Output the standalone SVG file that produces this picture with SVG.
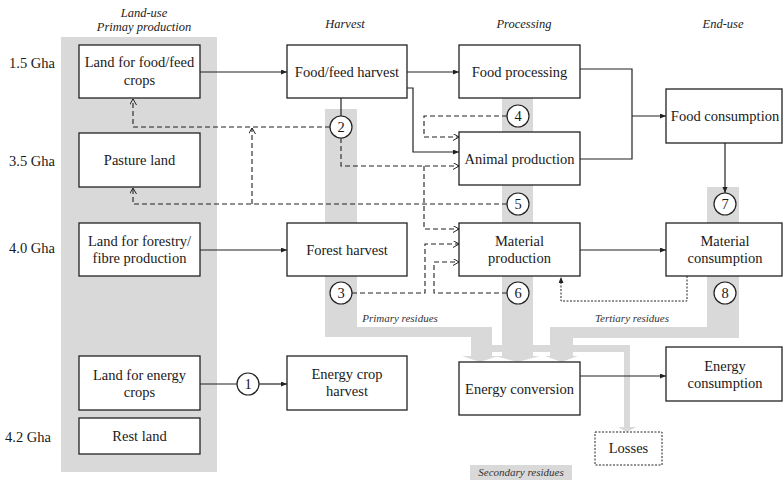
<svg xmlns="http://www.w3.org/2000/svg" width="783" height="481" viewBox="0 0 783 481">
<style>
.box{fill:#fff;stroke:#222;stroke-width:1.3}
text{font-family:'Liberation Serif','DejaVu Serif','Times New Roman',serif}
.t{font-size:14.5px;fill:#1a1a1a;text-anchor:middle}
.g{font-size:14.5px;fill:#1a1a1a}
.h{font-size:12.5px;font-style:italic;fill:#222;text-anchor:middle}
.r{font-size:11px;font-style:italic;fill:#333;text-anchor:middle}
.band{fill:#d9d9d9}
.sol{fill:none;stroke:#222;stroke-width:1.2;marker-end:url(#af)}
.sl{fill:none;stroke:#222;stroke-width:1.2}
.dsh{fill:none;stroke:#222;stroke-width:1.1;stroke-dasharray:5,3;marker-end:url(#ao)}
.dot{fill:none;stroke:#222;stroke-width:1;stroke-dasharray:2,1.5;marker-end:url(#af)}
.c{fill:#fff;stroke:#222;stroke-width:1.2}
</style>
<defs>
<marker id="af" markerUnits="userSpaceOnUse" markerWidth="7" markerHeight="6" refX="6" refY="2.5" orient="auto"><path d="M0,0 L6,2.5 L0,5 z" fill="#222"/></marker>
<marker id="ao" markerUnits="userSpaceOnUse" markerWidth="8" markerHeight="9" refX="6.5" refY="3.5" orient="auto"><path d="M0.5,0 L6.5,3.5 L0.5,7" fill="none" stroke="#222" stroke-width="1"/></marker>
</defs>
<g id="bands">
<rect class="band" x="61" y="37" width="156" height="435"/>
<rect class="band" x="325" y="109" width="32" height="228"/>
<rect class="band" x="325" y="327" width="167" height="10"/>
<rect class="band" x="471" y="327" width="21" height="29"/>
<polygon class="band" points="462,356 498,356 480,362"/>
<rect class="band" x="502" y="98" width="31" height="258"/>
<polygon class="band" points="495,356 540,356 517.5,362"/>
<rect class="band" x="707" y="187" width="32" height="151"/>
<rect class="band" x="550" y="327" width="189" height="11"/>
<rect class="band" x="550" y="327" width="23" height="29"/>
<polygon class="band" points="545,356 578,356 561.5,362"/>
<rect class="band" x="492" y="345" width="138" height="7"/>
<rect class="band" x="624" y="345" width="6" height="82"/>
<polygon class="band" points="618,427 636,427 627,432"/>
<rect class="band" x="470" y="465" width="102" height="15"/>
</g>
<g id="labels">
<text class="h" x="144" y="17">Land-use</text>
<text class="h" x="144" y="31">Primay production</text>
<text class="h" x="345" y="28">Harvest</text>
<text class="h" x="524" y="28">Processing</text>
<text class="h" x="723" y="28">End-use</text>
<text class="g" x="9" y="68">1.5 Gha</text>
<text class="g" x="9" y="166">3.5 Gha</text>
<text class="g" x="9" y="253">4.0 Gha</text>
<text class="g" x="5" y="442">4.2 Gha</text>
<text class="r" x="400" y="322">Primary residues</text>
<text class="r" x="632" y="322">Tertiary residues</text>
<text class="r" x="521" y="476">Secondary residues</text>
</g>
<g id="connectors">
<path class="sol" d="M200,72 H287"/>
<path class="sol" d="M407,72 H459"/>
<path class="sol" d="M407,88 H413 V152 H459"/>
<path class="sl" d="M580,69 H632 V159 H580"/>
<path class="sol" d="M632,116 H666"/>
<path class="sol" d="M725,143 V193"/>
<path class="sl" d="M341,98 V116"/>
<path class="sol" d="M200,250 H287"/>
<path class="sol" d="M580,250 H666"/>
<path class="sol" d="M580,376 H666"/>
<path class="sl" d="M200,384 H237"/>
<path class="sol" d="M259,384 H287"/>
<path class="dsh" d="M330,127 H133 V99"/>
<path class="dsh" d="M341,138 V166 H459"/>
<path class="dsh" d="M424,166 V229 H459"/>
<path class="dsh" d="M507,116 H424 V137 H459"/>
<path class="dsh" d="M507,204 H133 V188"/>
<path class="dsh" d="M252,204 V128"/>
<path class="dsh" d="M352,293 H425 V244 H459"/>
<path class="dsh" d="M507,293 H434 V262 H459"/>
<path class="dot" d="M687,276 V301 H561 V277"/>
</g>
<g id="land-food"><rect class="box" x="79" y="45" width="121" height="53"/><text class="t" x="139.5" y="67">Land for food/feed</text><text class="t" x="139.5" y="85">crops</text></g>
<g id="pasture"><rect class="box" x="79" y="133" width="121" height="54"/><text class="t" x="139.5" y="165">Pasture land</text></g>
<g id="land-forestry"><rect class="box" x="79" y="223" width="121" height="53"/><text class="t" x="139.5" y="246">Land for forestry/</text><text class="t" x="139.5" y="263">fibre production</text></g>
<g id="land-energy"><rect class="box" x="79" y="356" width="121" height="54"/><text class="t" x="139.5" y="379.5">Land for energy</text><text class="t" x="139.5" y="396.5">crops</text></g>
<g id="rest-land"><rect class="box" x="79" y="418" width="121" height="36"/><text class="t" x="139.5" y="441">Rest land</text></g>
<g id="food-harvest"><rect class="box" x="287" y="45" width="120" height="53"/><text class="t" x="347" y="76.5">Food/feed harvest</text></g>
<g id="forest-harvest"><rect class="box" x="287" y="223" width="120" height="53"/><text class="t" x="347" y="254.5">Forest harvest</text></g>
<g id="energy-harvest"><rect class="box" x="287" y="356" width="120" height="54"/><text class="t" x="347" y="379">Energy crop</text><text class="t" x="347" y="396">harvest</text></g>
<g id="food-processing"><rect class="box" x="459" y="45" width="121" height="53"/><text class="t" x="519.5" y="76.5">Food processing</text></g>
<g id="animal-production"><rect class="box" x="459" y="132" width="121" height="53"/><text class="t" x="519.5" y="163.5">Animal production</text></g>
<g id="material-production"><rect class="box" x="459" y="223" width="121" height="53"/><text class="t" x="519.5" y="246">Material</text><text class="t" x="519.5" y="263">production</text></g>
<g id="energy-conversion"><rect class="box" x="459" y="362" width="121" height="53"/><text class="t" x="519.5" y="393.5">Energy conversion</text></g>
<g id="food-consumption"><rect class="box" x="666" y="89" width="116" height="54"/><text class="t" x="725" y="121">Food consumption</text></g>
<g id="material-consumption"><rect class="box" x="666" y="223" width="116" height="53"/><text class="t" x="725" y="246">Material</text><text class="t" x="725" y="263">consumption</text></g>
<g id="energy-consumption"><rect class="box" x="666" y="347" width="116" height="54"/><text class="t" x="725" y="370.5">Energy</text><text class="t" x="725" y="387.5">consumption</text></g>
<g id="losses"><rect x="595" y="432" width="67" height="33" fill="#fff" stroke="#222" stroke-width="1" stroke-dasharray="2,1.5"/><text class="t" x="628.5" y="453">Losses</text></g>
<g id="n1"><circle class="c" cx="248" cy="384" r="11"/><text class="t" x="248" y="389">1</text></g>
<g id="n2"><circle class="c" cx="341" cy="127" r="11"/><text class="t" x="341" y="132">2</text></g>
<g id="n3"><circle class="c" cx="341" cy="293" r="11"/><text class="t" x="341" y="298">3</text></g>
<g id="n4"><circle class="c" cx="518" cy="116" r="11"/><text class="t" x="518" y="121">4</text></g>
<g id="n5"><circle class="c" cx="518" cy="204" r="11"/><text class="t" x="518" y="209">5</text></g>
<g id="n6"><circle class="c" cx="518" cy="293" r="11"/><text class="t" x="518" y="298">6</text></g>
<g id="n7"><circle class="c" cx="725" cy="204" r="11"/><text class="t" x="725" y="209">7</text></g>
<g id="n8"><circle class="c" cx="725" cy="293" r="11"/><text class="t" x="725" y="298">8</text></g>
</svg>
